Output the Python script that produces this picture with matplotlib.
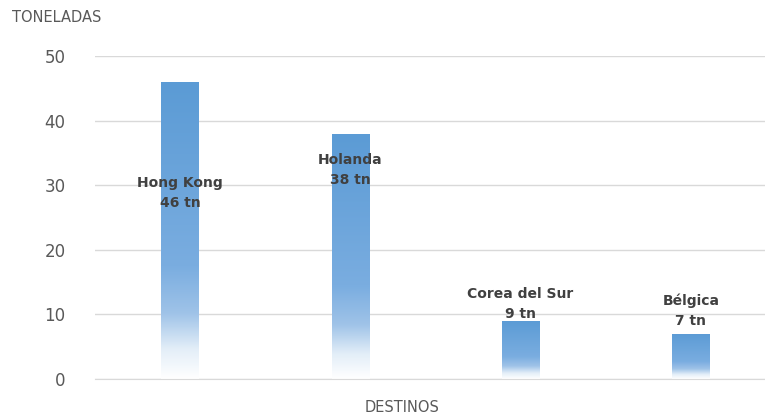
import numpy as np
import matplotlib
matplotlib.use("Agg")
import matplotlib.pyplot as plt
from matplotlib.colors import LinearSegmentedColormap

# datos
destinos = ["Hong Kong", "Holanda", "Corea del Sur", "Bélgica"]
toneladas = [46, 38, 9, 7]
etiquetas = ["Hong Kong\n46 tn", "Holanda\n38 tn", "Corea del Sur\n9 tn", "Bélgica\n7 tn"]
# altura (en toneladas) donde va el centro de cada etiqueta
pos_etiqueta = [28.8, 32.4, 11.6, 10.6]

fig = plt.figure(figsize=(7.65, 4.16), dpi=100)
ax = fig.add_axes([0.124, 0.089, 0.876, 0.776])

# degradado: azul arriba, blanco abajo
cmap = LinearSegmentedColormap.from_list(
    "grad", [(0.0, "#ffffff"), (0.1, "#e3eef8"), (0.22, "#9fc3e8"),
             (0.38, "#7aade0"), (1.0, "#5b9bd5")])
grad = np.linspace(0, 1, 256).reshape(-1, 1)

x = np.arange(len(destinos))
ancho = 0.22
bars = ax.bar(x, toneladas, width=ancho, color="none", edgecolor="none", zorder=2)
for b in bars:
    x0, y0 = b.get_x(), b.get_y()
    w, h = b.get_width(), b.get_height()
    im = ax.imshow(grad, cmap=cmap, origin="lower", aspect="auto",
                   extent=[x0, x0 + w, y0, y0 + h], zorder=2)
    im.set_clip_path(b)

for xi, txt, yp in zip(x, etiquetas, pos_etiqueta):
    ax.text(xi, yp, txt, ha="center", va="center", fontsize=10, fontweight="bold",
            color="#404040", linespacing=1.55, zorder=3)

ax.set_xlim(-0.5, 3.435)
ax.set_ylim(0, 50)
ax.set_yticks([0, 10, 20, 30, 40, 50])
ax.set_xticks([])
ax.grid(axis="y", color="#d9d9d9", linewidth=1, zorder=0)
ax.set_axisbelow(True)
for s in ["top", "right", "left"]:
    ax.spines[s].set_visible(False)
ax.spines["bottom"].set_color("#d9d9d9")
ax.tick_params(axis="y", length=0, pad=21, labelsize=12, labelcolor="#595959")

fig.text(12 / 765, 1 - 18 / 416, "TONELADAS", fontsize=10.5, color="#595959", va="center", ha="left")
fig.text(402 / 765, 1 - 407 / 416, "DESTINOS", fontsize=10.5, color="#595959", va="center", ha="center")

fig.savefig("out.png", dpi=100)
